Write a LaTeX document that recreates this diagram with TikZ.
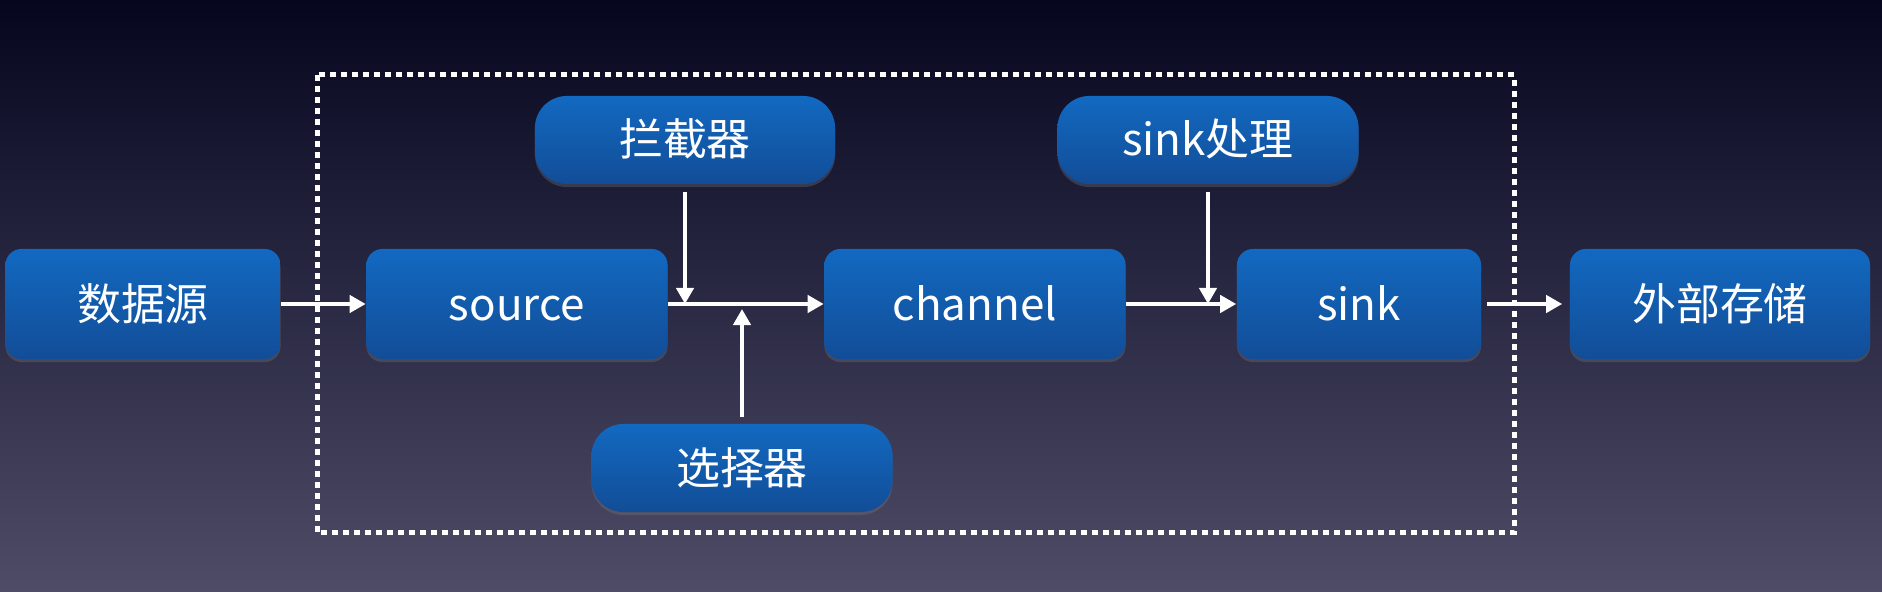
\documentclass[tikz,border=0pt]{standalone}
\usepackage{fontspec}
\setmainfont{Noto Sans CJK SC}
\usetikzlibrary{arrows.meta, shadows}
\definecolor{bgtop}{HTML}{06061F}
\definecolor{bgbot}{HTML}{4E4C67}
\definecolor{boxtop}{HTML}{1269C1}
\definecolor{boxbot}{HTML}{124D97}

\begin{document}
\begin{tikzpicture}[x=0.01cm, y=-0.01cm,
    box/.style={rounded corners=0.16cm, top color=boxtop, bottom color=boxbot, text=white,
        minimum height=1.1cm, minimum width=3cm, font=\fontsize{12.5}{15}\selectfont,
        text height=0.4cm, text depth=0.08cm,
        drop shadow={opacity=0.3, shadow xshift=0cm, shadow yshift=-0.03cm}},
    plugbox/.style={box, rounded corners=0.32cm, minimum height=0.88cm},
    flow/.style={white, line width=0.04cm, -{Triangle[length=0.16cm, width=0.17cm]}},
    frame/.style={white, line width=0.05cm, dash pattern=on 0.06cm off 0.05cm}]
    % background
    \fill[top color=bgtop, bottom color=bgbot] (0,0) rectangle (1882,592);
    \useasboundingbox (0,0) rectangle (1882,592);
    \draw[frame] (317,75) rectangle (1514,533);

    \node[box, minimum width=2.75cm] (data) at (143,304) {数据源};
    \node[box, minimum width=3.01cm] (source) at (517,304) {source};
    \node[box, minimum width=3.01cm] (channel) at (975,304) {channel};
    \node[box, minimum width=2.44cm] (sink) at (1359,304) {sink};
    \node[box] (store) at (1720,304) {外部存储};
    \node[plugbox] (interceptor) at (685,140) {拦截器};
    \node[plugbox, minimum width=3.01cm] (sinkproc) at (1208,140) {sink处理};
    \node[plugbox, minimum width=3.01cm] (selector) at (742,468) {选择器};

    \coordinate (join1) at (interceptor |- source);
    \coordinate (join2) at (sinkproc |- sink);

    \draw[flow] (data) -- (source);
    \draw[flow] (source) -- (channel);
    \draw[flow, shorten <=0.07cm] (interceptor) -- (join1);
    \draw[flow, shorten <=0.06cm, shorten >=0.05cm] (selector) -- (selector |- source);
    \draw[flow] (channel) -- (sink);
    \draw[flow, shorten <=0.07cm] (sinkproc) -- (join2);
    \draw[flow, shorten <=0.05cm, shorten >=0.07cm] (sink) -- (store);
\end{tikzpicture}
\end{document}
